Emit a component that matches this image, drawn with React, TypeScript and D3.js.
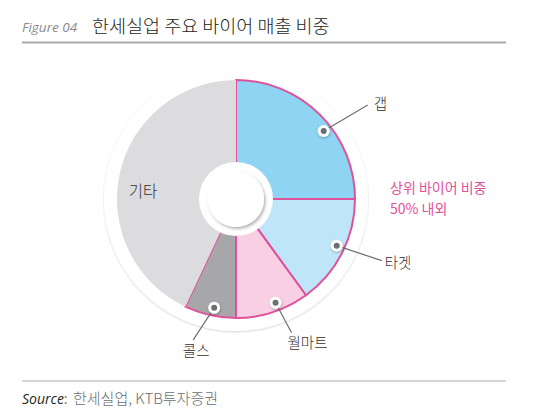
import { useEffect } from 'react';
import * as d3 from 'd3';

const buyers = ['갭', '타겟', '월마트', '콜스', '기타'];
const shares = [25, 15, 10, 7, 43];
const fills = ['#8fd4f3', '#bee5f8', '#f9d0e3', '#a7a7a9', '#dcdcde'];
// where each dot sits along its slice (0 = start angle, 1 = end angle)
const dotFractions = [0.58, 0.46, 0.42, 0.45, null];
// leader line end offsets from each dot (기타 has no dot)
const leaderOffsets: ([number, number] | null)[] = [[44, -26], [45, 15], [16, 30], [-21, 32], null];

const W = 559;
const H = 412;
const KR = '"Noto Sans CJK KR", "Noto Sans", sans-serif';
const PINK = '#e0519b';

export default function App() {
  useEffect(() => {
    document.body.style.margin = '0';
  }, []);

  const cx = 236;
  const cy = 199;
  const rDisk = 132;
  const rSlice = 119;
  const rHole = 37;
  const rCap = 28;
  const rDot = 111;

  const pie = d3.pie<number>().sort(null).value(d => d)(shares);
  const arc = d3.arc<d3.PieArcDatum<number>>().innerRadius(0).outerRadius(rSlice);

  const dotPos = (d: d3.PieArcDatum<number>, f: number): [number, number] => {
    const a = d.startAngle + (d.endAngle - d.startAngle) * f;
    return [rDot * Math.sin(a), -rDot * Math.cos(a)];
  };

  return (
    <svg width={W} height={H} style={{ display: 'block', background: '#fff' }}>
      <defs>
        <filter id="diskShadow" x="-20%" y="-20%" width="140%" height="140%">
          <feDropShadow dx="0" dy="1" stdDeviation="1.2" floodColor="#000" floodOpacity="0.18" />
        </filter>
        <filter id="capShadow" x="-30%" y="-30%" width="160%" height="160%">
          <feDropShadow dx="1.5" dy="2" stdDeviation="1.5" floodColor="#000" floodOpacity="0.3" />
        </filter>
        <filter id="dotShadow" x="-50%" y="-50%" width="200%" height="200%">
          <feDropShadow dx="0.5" dy="1" stdDeviation="0.8" floodColor="#000" floodOpacity="0.3" />
        </filter>
      </defs>

      {/* title */}
      <text x={22} y={32} fontFamily='"Open Sans", sans-serif' fontStyle="italic" fontSize={13.5} fill="#8a8c8f">
        Figure 04
      </text>
      <text x={92} y={33} fontFamily={KR} fontWeight={300} fontSize={18.5} fill="#231f20">
        한세실업 주요 바이어 매출 비중
      </text>
      <line x1={22} x2={506} y1={42.5} y2={42.5} stroke="#a8aaad" strokeWidth={2} />

      {/* chart */}
      <g transform={`translate(${cx},${cy})`}>
        <circle r={rDisk} fill="#fff" filter="url(#diskShadow)" />
        {pie.map((d, i) => (
          <path
            key={buyers[i]}
            d={arc(d) ?? ''}
            fill={fills[i]}
            stroke={i < 4 ? PINK : 'none'}
            strokeWidth={2}
            strokeLinejoin="round"
          />
        ))}
        <circle r={rHole} fill="#fff" />
        <circle r={rCap} fill="#fff" filter="url(#capShadow)" />

        {pie.map((d, i) => {
          const off = leaderOffsets[i];
          const f = dotFractions[i];
          if (!off || f === null) return null;
          const [x, y] = dotPos(d, f);
          return (
            <g key={`dot-${buyers[i]}`}>
              <line x1={x} y1={y} x2={x + off[0]} y2={y + off[1]} stroke="#6d6e71" strokeWidth={1.2} />
              <circle cx={x} cy={y} r={6} fill="#fff" filter="url(#dotShadow)" />
              <circle cx={x} cy={y} r={3} fill="#6d6e71" />
            </g>
          );
        })}

        {pie.map((d, i) => {
          const off = leaderOffsets[i];
          const f = dotFractions[i];
          let lx: number, ly: number, anchor: string;
          if (!off || f === null) {
            lx = -93; ly = -9; anchor = 'middle';
          } else {
            const [x, y] = dotPos(d, f);
            if (i === 0) {
              lx = x + off[0] + 6; ly = y + off[1] - 2; anchor = 'start';
            } else if (i === 1) {
              lx = x + off[0] + 3; ly = y + off[1] + 1; anchor = 'start';
            } else if (i === 2) {
              lx = x + off[0] + 16; ly = y + off[1] + 9; anchor = 'middle';
            } else {
              lx = x + off[0] + 3; ly = y + off[1] + 10; anchor = 'middle';
            }
          }
          return (
            <text
              key={`lbl-${buyers[i]}`}
              x={lx}
              y={ly}
              textAnchor={anchor}
              dominantBaseline="central"
              fontFamily={KR}
              fontWeight={300}
              fontSize={!off ? 15.5 : 14.5}
              fill="#2f2f31"
            >
              {buyers[i]}
            </text>
          );
        })}
      </g>

      <text fontFamily={KR} fontSize={14} fill={PINK}>
        <tspan x={390} y={193}>상위 바이어 비중</tspan>
        <tspan x={390} y={214}>50% 내외</tspan>
      </text>

      {/* source */}
      <line x1={22} x2={506} y1={381} y2={381} stroke="#a8aaad" strokeWidth={1.2} />
      <text x={22} y={404} fontSize={14} fill="#6d6e71">
        <tspan fontFamily='"Open Sans", sans-serif' fontStyle="italic" fill="#231f20">Source</tspan>
        <tspan fontFamily='"Open Sans", sans-serif'>:  </tspan>
        <tspan x={73} fontFamily={KR} fontWeight={300} fontSize={15}>한세실업, KTB투자증권</tspan>
      </text>
    </svg>
  );
}
